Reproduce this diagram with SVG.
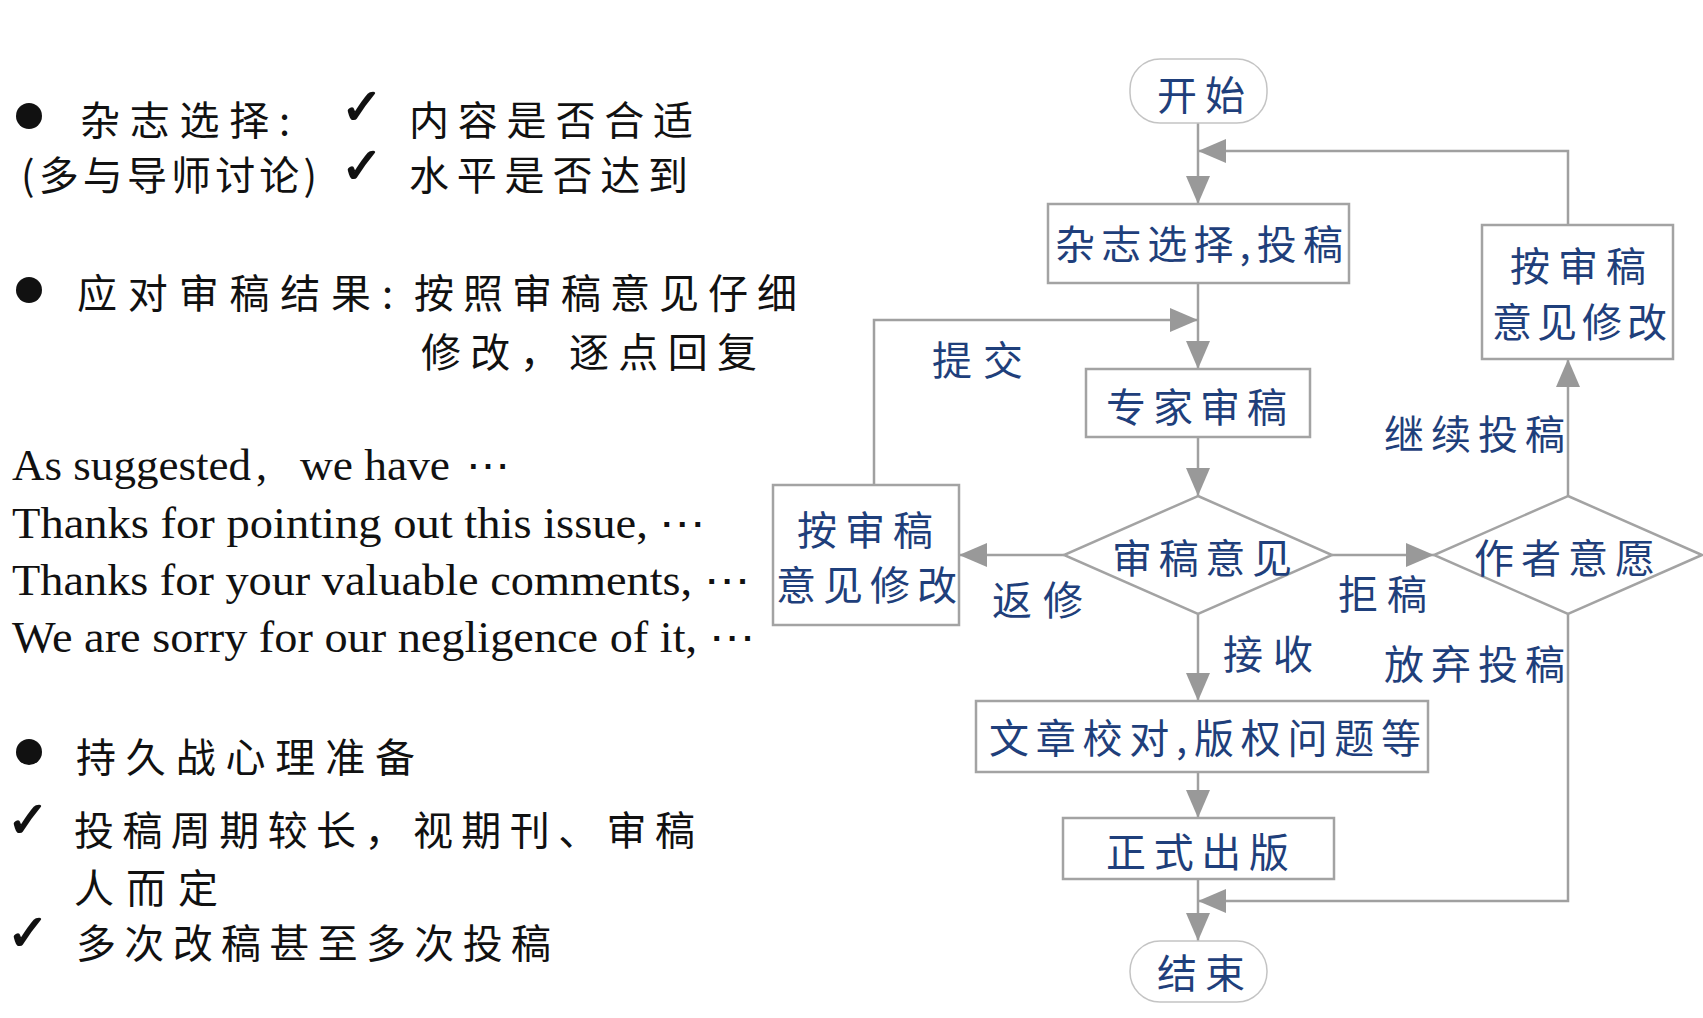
<svg xmlns="http://www.w3.org/2000/svg" width="1703" height="1018" viewBox="0 0 1703 1018">
  <defs>
    <style>
      .n { fill: #ffffff; stroke: #a3a3a3; stroke-width: 2.5; }
      .term { fill: #ffffff; stroke: #c4c4c4; stroke-width: 1.5; }
      .c { fill: none; stroke: #a0a0a0; stroke-width: 2.5; }
      .t { font-family: "Noto Sans CJK SC", sans-serif; font-size: 40px; fill: #1f3f7b; }
      .b { font-family: "Noto Sans CJK SC", sans-serif; font-size: 40px; fill: #111111; }
      .e { font-family: "Liberation Serif", "DejaVu Serif", serif; font-size: 44px; fill: #111111; }
      .ck { font-family: "DejaVu Sans", sans-serif; font-size: 50px; fill: #111111; stroke: #111111; stroke-width: 1.6; }
    </style>
    <marker id="arr" markerUnits="userSpaceOnUse" markerWidth="28" markerHeight="24" refX="28" refY="12" orient="auto">
      <path d="M0,0 L28,12 L0,24 z" fill="#999999"/>
    </marker>
  </defs>
  <rect width="1703" height="1018" fill="#ffffff"/>

  <!-- left-hand notes -->
  <g id="notes">
    <circle cx="29" cy="116" r="13" fill="#111"/>
    <text class="b" x="80" y="135" textLength="210" lengthAdjust="spacing">杂志选择:</text>
    <text class="ck" x="341" y="124">✓</text>
    <text class="b" x="409" y="135" textLength="284" lengthAdjust="spacing">内容是否合适</text>
    <text class="b" x="21" y="190" textLength="296" lengthAdjust="spacing">(多与导师讨论)</text>
    <text class="ck" x="341" y="183">✓</text>
    <text class="b" x="409" y="190" textLength="279" lengthAdjust="spacing">水平是否达到</text>

    <circle cx="29" cy="290" r="13" fill="#111"/>
    <text class="b" x="77" y="308" textLength="316" lengthAdjust="spacing">应对审稿结果:</text>
    <text class="b" x="414" y="308" textLength="383" lengthAdjust="spacing">按照审稿意见仔细</text>
    <text class="b" x="421" y="367" textLength="336" lengthAdjust="spacing">修改，逐点回复</text>

    <text class="e" y="480"><tspan x="12" textLength="239" lengthAdjust="spacingAndGlyphs">As suggested</tspan><tspan x="256">,</tspan><tspan x="300" textLength="150" lengthAdjust="spacingAndGlyphs">we have</tspan><tspan x="466">⋯</tspan></text>
    <text class="e" x="12" y="538" textLength="694" lengthAdjust="spacingAndGlyphs">Thanks for pointing out this issue, ⋯</text>
    <text class="e" x="12" y="595" textLength="738" lengthAdjust="spacingAndGlyphs">Thanks for your valuable comments, ⋯</text>
    <text class="e" x="12" y="652" textLength="743" lengthAdjust="spacingAndGlyphs">We are sorry for our negligence of it, ⋯</text>

    <circle cx="29" cy="752" r="13" fill="#111"/>
    <text class="b" x="76" y="772" textLength="339" lengthAdjust="spacing">持久战心理准备</text>
    <text class="ck" x="7" y="837">✓</text>
    <text class="b" x="74" y="845" textLength="621" lengthAdjust="spacing">投稿周期较长，视期刊、审稿</text>
    <text class="b" x="74" y="903" textLength="144" lengthAdjust="spacing">人而定</text>
    <text class="ck" x="7" y="950">✓</text>
    <text class="b" x="76" y="958" textLength="475" lengthAdjust="spacing">多次改稿甚至多次投稿</text>
  </g>

  <!-- connectors -->
  <g id="connectors">
    <path class="c" d="M1198,123 V204" marker-end="url(#arr)"/>
    <path class="c" d="M1568,225 V151 H1198" marker-end="url(#arr)"/>
    <path class="c" d="M1198,283 V369" marker-end="url(#arr)"/>
    <path class="c" d="M874,485 V320 H1198" marker-end="url(#arr)"/>
    <path class="c" d="M1198,437 V496" marker-end="url(#arr)"/>
    <path class="c" d="M1064,555 H959" marker-end="url(#arr)"/>
    <path class="c" d="M1332,555 H1434" marker-end="url(#arr)"/>
    <path class="c" d="M1568,496 V359" marker-end="url(#arr)"/>
    <path class="c" d="M1198,614 V701" marker-end="url(#arr)"/>
    <path class="c" d="M1198,772 V818" marker-end="url(#arr)"/>
    <path class="c" d="M1568,614 V901 H1198" marker-end="url(#arr)"/>
    <path class="c" d="M1198,879 V941" marker-end="url(#arr)"/>

    <text class="t" x="932" y="375" textLength="91" lengthAdjust="spacing">提交</text>
    <text class="t" x="1384" y="449" textLength="181" lengthAdjust="spacing">继续投稿</text>
    <text class="t" x="992" y="615" textLength="91" lengthAdjust="spacing">返修</text>
    <text class="t" x="1338" y="609" textLength="89" lengthAdjust="spacing">拒稿</text>
    <text class="t" x="1223" y="669" textLength="90" lengthAdjust="spacing">接收</text>
    <text class="t" x="1384" y="679" textLength="181" lengthAdjust="spacing">放弃投稿</text>
  </g>

  <!-- flowchart nodes -->
  <g id="start">
    <rect class="term" x="1130" y="59" width="137" height="64" rx="30"/>
    <text class="t" x="1157" y="110" textLength="88" lengthAdjust="spacing">开始</text>
  </g>
  <g id="select-submit">
    <rect class="n" x="1048" y="204" width="301" height="79"/>
    <text class="t" x="1055" y="259" textLength="288" lengthAdjust="spacing">杂志选择,投稿</text>
  </g>
  <g id="expert-review">
    <rect class="n" x="1086" y="369" width="224" height="68"/>
    <text class="t" x="1106" y="422" textLength="181" lengthAdjust="spacing">专家审稿</text>
  </g>
  <g id="revise-right">
    <rect class="n" x="1482" y="225" width="191" height="134"/>
    <text class="t" x="1510" y="281" textLength="136" lengthAdjust="spacing">按审稿</text>
    <text class="t" x="1492" y="337" textLength="175" lengthAdjust="spacing">意见修改</text>
  </g>
  <g id="revise-left">
    <rect class="n" x="773" y="485" width="186" height="140"/>
    <text class="t" x="797" y="545" textLength="136" lengthAdjust="spacing">按审稿</text>
    <text class="t" x="776" y="600" textLength="181" lengthAdjust="spacing">意见修改</text>
  </g>
  <g id="review-decision">
    <polygon class="n" points="1198,496 1332,555 1198,614 1064,555"/>
    <text class="t" x="1112" y="573" textLength="180" lengthAdjust="spacing">审稿意见</text>
  </g>
  <g id="author-decision">
    <polygon class="n" points="1568,496 1702,555 1568,614 1434,555"/>
    <text class="t" x="1474" y="573" textLength="181" lengthAdjust="spacing">作者意愿</text>
  </g>
  <g id="proofing">
    <rect class="n" x="976" y="701" width="452" height="71"/>
    <text class="t" x="989" y="753" textLength="432" lengthAdjust="spacing">文章校对,版权问题等</text>
  </g>
  <g id="publish">
    <rect class="n" x="1063" y="818" width="271" height="61"/>
    <text class="t" x="1106" y="867" textLength="183" lengthAdjust="spacing">正式出版</text>
  </g>
  <g id="end">
    <rect class="term" x="1130" y="941" width="137" height="61" rx="30"/>
    <text class="t" x="1157" y="988" textLength="88" lengthAdjust="spacing">结束</text>
  </g>
</svg>
